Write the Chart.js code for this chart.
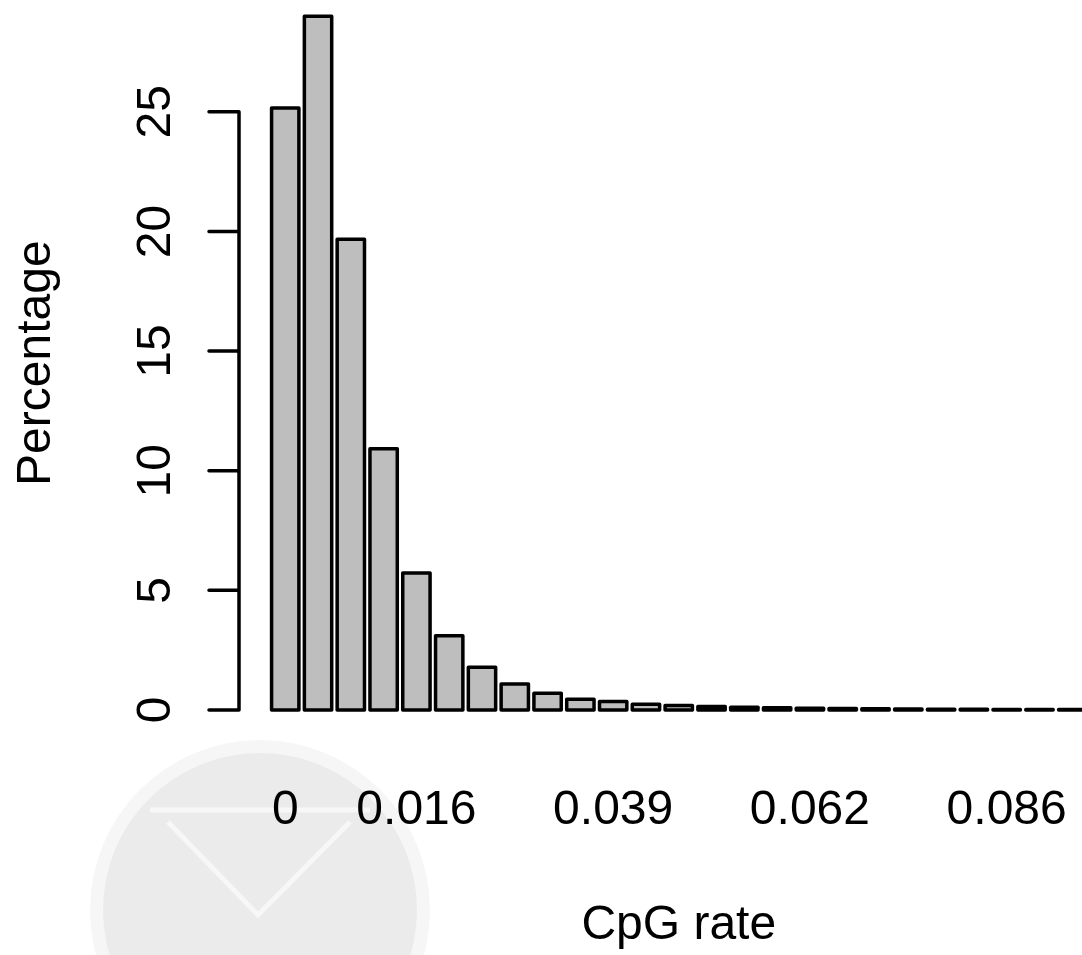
<!DOCTYPE html>
<html>
<head>
<meta charset="utf-8">
<title>CpG rate</title>
<script src="https://cdn.jsdelivr.net/npm/chart.js@4/dist/chart.umd.min.js"></script>
<style>
  html, body { margin: 0; padding: 0; background: #fff; }
  #wrap { position: relative; width: 1082px; height: 955px; overflow: hidden; }
  #c { position: absolute; left: 0; top: -40px; }
</style>
</head>
<body>
<div id="wrap"><canvas id="c" width="1200" height="995" style="width:1200px;height:995px"></canvas></div>
<script>
// bins of the CpG rate histogram
const cpgRate = ['0', '0.004', '0.008', '0.012', '0.016', '0.02', '0.023', '0.027', '0.031', '0.035',
  '0.039', '0.043', '0.047', '0.051', '0.055', '0.059', '0.062', '0.066', '0.07', '0.074',
  '0.078', '0.082', '0.086', '0.09', '0.094'];
const percentage = [25.16, 28.99, 19.67, 10.92, 5.72, 3.10, 1.78, 1.08, 0.70, 0.45,
  0.35, 0.24, 0.19, 0.14, 0.11, 0.09, 0.07, 0.06, 0.05, 0.04,
  0.03, 0.03, 0.02, 0.02, 0.02];
const xTickLabels = ['0', '0.016', '0.039', '0.062', '0.086'];
const yTicks = [0, 5, 10, 15, 20, 25];

const FONT = '"Liberation Sans", Arial, Helvetica, sans-serif';
const LINE = 3.5;
const xTickIdx = xTickLabels.map(l => cpgRate.indexOf(l));

// base-graphics style axis on the left: line from 0 to 25, outward ticks, rotated labels
const leftAxis = {
  id: 'leftAxis',
  afterDraw(chart) {
    const ctx = chart.ctx;
    const y = chart.scales.y;
    const x0 = chart.chartArea.left;
    ctx.save();
    ctx.strokeStyle = '#000';
    ctx.lineWidth = LINE;
    ctx.lineCap = 'round';
    ctx.beginPath();
    ctx.moveTo(x0, y.getPixelForValue(yTicks[0]));
    ctx.lineTo(x0, y.getPixelForValue(yTicks[yTicks.length - 1]));
    yTicks.forEach(v => {
      const py = y.getPixelForValue(v);
      ctx.moveTo(x0, py);
      ctx.lineTo(x0 - 30, py);
    });
    ctx.stroke();
    ctx.fillStyle = '#000';
    ctx.font = '48px ' + FONT;
    ctx.textAlign = 'center';
    ctx.textBaseline = 'alphabetic';
    yTicks.forEach(v => {
      ctx.save();
      ctx.translate(170, y.getPixelForValue(v));
      ctx.rotate(-Math.PI / 2);
      ctx.fillText(String(v), 0, 0);
      ctx.restore();
    });
    ctx.restore();
  }
};

// outline each bar with the stroke centred on its edges
const barOutline = {
  id: 'barOutline',
  afterDatasetsDraw(chart) {
    const ctx = chart.ctx;
    ctx.save();
    ctx.strokeStyle = '#000';
    ctx.lineWidth = LINE;
    ctx.lineJoin = 'round';
    chart.getDatasetMeta(0).data.forEach(bar => {
      const p = bar.getProps(['x', 'y', 'base', 'width'], true);
      ctx.strokeRect(p.x - p.width / 2, p.y, p.width, p.base - p.y);
    });
    ctx.restore();
  }
};

// faint logo mark in the lower-left corner
const logoMark = {
  id: 'logoMark',
  beforeDraw(chart) {
    const ctx = chart.ctx;
    ctx.save();
    ctx.fillStyle = '#f6f6f6';
    ctx.beginPath();
    ctx.arc(260, 950, 170, 0, Math.PI * 2);
    ctx.fill();
    ctx.fillStyle = '#ebebeb';
    ctx.beginPath();
    ctx.arc(260, 950, 157, 0, Math.PI * 2);
    ctx.fill();
    ctx.strokeStyle = '#f7f7f7';
    ctx.lineWidth = 5;
    ctx.beginPath();
    ctx.moveTo(150, 850);
    ctx.lineTo(370, 850);
    ctx.moveTo(168, 862);
    ctx.lineTo(258, 955);
    ctx.lineTo(350, 862);
    ctx.stroke();
    ctx.restore();
  }
};

new Chart(document.getElementById('c'), {
  type: 'bar',
  data: {
    datasets: [{
      data: percentage.map((v, i) => ({ x: i, y: v })),
      backgroundColor: '#bebebe',
      borderWidth: 0,
      barThickness: 27.33
    }]
  },
  options: {
    responsive: false,
    animation: false,
    layout: { padding: { top: 28.6, right: 81.5, bottom: 0, left: 0 } },
    plugins: { legend: { display: false }, tooltip: { enabled: false } },
    scales: {
      x: {
        type: 'linear',
        min: -1.41,
        max: 25.41,
        offset: false,
        grid: { display: false, drawTicks: false, offset: false },
        border: { display: false },
        afterBuildTicks(scale) {
          scale.ticks = xTickIdx.map(v => ({ value: v }));
        },
        afterFit(scale) { scale.height = 217.3; },
        ticks: {
          autoSkip: false,
          maxRotation: 0,
          padding: 44,
          color: '#000',
          font: { family: FONT, size: 48 },
          callback: v => cpgRate[v]
        },
        title: {
          display: true,
          text: 'CpG rate',
          color: '#000',
          font: { family: FONT, size: 48 },
          padding: { top: 0, bottom: 0 }
        }
      },
      y: {
        min: -1.16,
        max: 30.15,
        grid: { display: false },
        border: { display: false },
        ticks: { display: false },
        afterFit(scale) { scale.width = 239; },
        title: {
          display: true,
          text: 'Percentage',
          color: '#000',
          font: { family: FONT, size: 48 },
          padding: { top: 7.6, bottom: 0 }
        }
      }
    }
  },
  plugins: [logoMark, barOutline, leftAxis]
});
</script>
</body>
</html>
